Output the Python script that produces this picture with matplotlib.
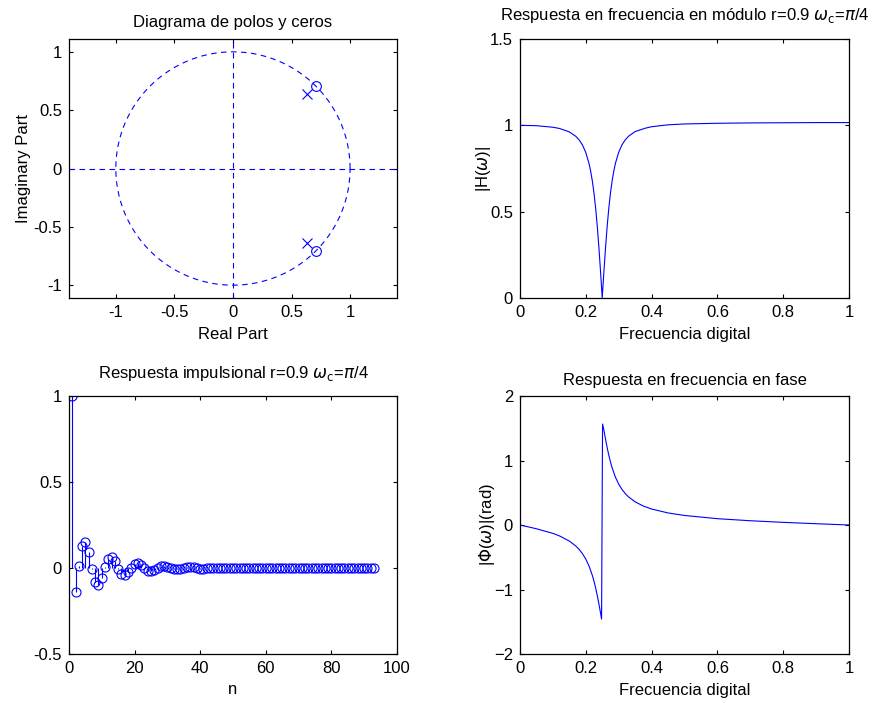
import matplotlib
matplotlib.use('Agg')
import matplotlib.pyplot as plt
import numpy as np

# Pole-zero data
zeros_re = [0.707, 0.707]
zeros_im = [0.707, -0.707]
poles_re = [0.636, 0.636]
poles_im = [0.636, -0.636]

# Impulse response, n = 1..93
h_head = [1.0, -0.141, 0.010, 0.127, 0.154, 0.093, -0.007, -0.084, -0.101, -0.061,
          0.004, 0.055, 0.066, 0.040, -0.003, -0.036, -0.043, -0.026, 0.002, 0.024,
          0.029, 0.017, -0.001, -0.015, -0.019, -0.011, 0.001, 0.010, 0.012, 0.007,
          -0.001, -0.007, -0.008, -0.005, 0.000, 0.004, 0.005, 0.003, 0.000, -0.003,
          -0.003]
h_tail = [0.0] * 52
h = h_head + h_tail
n = list(range(1, len(h) + 1))

# Magnitude response
f_mag = [0, 0.05, 0.1, 0.12, 0.15, 0.17, 0.18, 0.19, 0.2, 0.21, 0.215, 0.22, 0.225,
         0.23, 0.235, 0.24, 0.245, 0.2475, 0.25, 0.2525, 0.255, 0.26, 0.265, 0.27,
         0.275, 0.28, 0.285, 0.29, 0.3, 0.31, 0.32, 0.33, 0.35, 0.38, 0.4, 0.45,
         0.5, 0.6, 0.7, 0.8, 0.9, 1.0]
mag = [1.000, 0.998, 0.989, 0.982, 0.962, 0.936, 0.915, 0.886, 0.843, 0.778, 0.733,
       0.677, 0.607, 0.520, 0.415, 0.290, 0.150, 0.076, 0.0, 0.076, 0.150, 0.290,
       0.415, 0.520, 0.607, 0.677, 0.733, 0.779, 0.844, 0.887, 0.916, 0.937, 0.964,
       0.983, 0.992, 1.003, 1.008, 1.012, 1.014, 1.015, 1.016, 1.016]

# Phase response
f_ph = [0, 0.05, 0.1, 0.12, 0.15, 0.17, 0.18, 0.19, 0.2, 0.21, 0.22, 0.225, 0.23,
        0.235, 0.24, 0.245, 0.248, 0.251, 0.255, 0.26, 0.265, 0.27, 0.275, 0.28,
        0.29, 0.3, 0.31, 0.32, 0.33, 0.35, 0.375, 0.4, 0.45, 0.5, 0.6, 0.7, 0.8,
        0.9, 1.0]
phase = [0.0, -0.058, -0.130, -0.169, -0.249, -0.327, -0.379, -0.445, -0.528, -0.637,
         -0.782, -0.873, -0.977, -1.095, -1.226, -1.369, -1.458, 1.565, 1.475, 1.332,
         1.200, 1.082, 0.978, 0.888, 0.743, 0.634, 0.552, 0.487, 0.436, 0.359, 0.294,
         0.248, 0.187, 0.148, 0.098, 0.066, 0.041, 0.020, 0.0]

plt.rcParams['font.family'] = ['Liberation Sans', 'DejaVu Sans']
plt.rcParams['font.size'] = 12
plt.rcParams['mathtext.fontset'] = 'dejavusans'

BLUE = (0, 0, 1)

fig = plt.figure(figsize=(8.72, 7.03), dpi=100)
ax1 = fig.add_axes([0.0791, 0.5761, 0.3761, 0.3684])
ax2 = fig.add_axes([0.5963, 0.5761, 0.3773, 0.3684])
ax3 = fig.add_axes([0.0791, 0.0697, 0.3761, 0.3670])
ax4 = fig.add_axes([0.5963, 0.0697, 0.3773, 0.3670])

for ax in (ax1, ax2, ax3, ax4):
    ax.tick_params(direction='in', top=True, right=True, length=3, width=0.8,
                   pad=5, labelsize=12)
    for s in ax.spines.values():
        s.set_linewidth(0.9)

# Pole-zero diagram
t = np.linspace(0, 2 * np.pi, 200)
ax1.plot(np.cos(t), np.sin(t), '--', color=BLUE, lw=0.8, dashes=(5, 4))
ax1.plot([-1.4, 1.4], [0, 0], '--', color=BLUE, lw=0.8, dashes=(5, 4))
ax1.plot([0, 0], [-1.11, 1.11], '--', color=BLUE, lw=0.8, dashes=(5, 4))
ax1.plot(zeros_re, zeros_im, 'o', mfc='none', mec=BLUE, ms=7, mew=0.8)
ax1.plot(poles_re, poles_im, 'x', color=BLUE, ms=7, mew=0.8)
ax1.set_xlim(-1.4, 1.4)
ax1.set_ylim(-1.11, 1.11)
ax1.set_xticks([-1, -0.5, 0, 0.5, 1])
ax1.set_xticklabels(['-1', '-0.5', '0', '0.5', '1'])
ax1.set_yticks([-1, -0.5, 0, 0.5, 1])
ax1.set_yticklabels(['-1', '-0.5', '0', '0.5', '1'])
ax1.set_xlabel('Real Part', labelpad=5)
ax1.set_ylabel('Imaginary Part', labelpad=2)
ax1.set_title('Diagrama de polos y ceros', fontsize=12, pad=9)

# Magnitude
ax2.plot(f_mag, mag, color=BLUE, lw=0.8)
ax2.set_xlim(0, 1)
ax2.set_ylim(0, 1.5)
ax2.set_xticks([0, 0.2, 0.4, 0.6, 0.8, 1])
ax2.set_xticklabels(['0', '0.2', '0.4', '0.6', '0.8', '1'])
ax2.set_yticks([0, 0.5, 1, 1.5])
ax2.set_yticklabels(['0', '0.5', '1', '1.5'])
ax2.set_xlabel('Frecuencia digital', labelpad=5)
ax2.set_ylabel(r'|H($\omega$)|', labelpad=-2)
ax2.set_title(r'Respuesta en frecuencia en módulo r=0.9 $\omega_{\rm c}$=$\pi$/4',
              fontsize=12, pad=14)

# Impulse response
ml, sl, bl = ax3.stem(n, h, basefmt=' ')
plt.setp(ml, marker='o', mfc='none', mec=BLUE, ms=6.5, mew=0.8)
plt.setp(sl, color=BLUE, lw=0.8)
ax3.set_xlim(0, 100)
ax3.set_ylim(-0.5, 1)
ax3.set_xticks([0, 20, 40, 60, 80, 100])
ax3.set_yticks([-0.5, 0, 0.5, 1])
ax3.set_yticklabels(['-0.5', '0', '0.5', '1'])
ax3.set_xlabel('n', labelpad=4)
ax3.set_title(r'Respuesta impulsional r=0.9 $\omega_{\rm c}$=$\pi$/4', fontsize=12, pad=13)

# Phase
ax4.plot(f_ph, phase, color=BLUE, lw=0.8)
ax4.set_xlim(0, 1)
ax4.set_ylim(-2, 2)
ax4.set_xticks([0, 0.2, 0.4, 0.6, 0.8, 1])
ax4.set_xticklabels(['0', '0.2', '0.4', '0.6', '0.8', '1'])
ax4.set_yticks([-2, -1, 0, 1, 2])
ax4.set_xlabel('Frecuencia digital', labelpad=5)
ax4.set_ylabel(r'|$\Phi$($\omega$)|(rad)', labelpad=-2)
ax4.set_title('Respuesta en frecuencia en fase', fontsize=12, pad=8)

fig.savefig('out.png', dpi=100)
